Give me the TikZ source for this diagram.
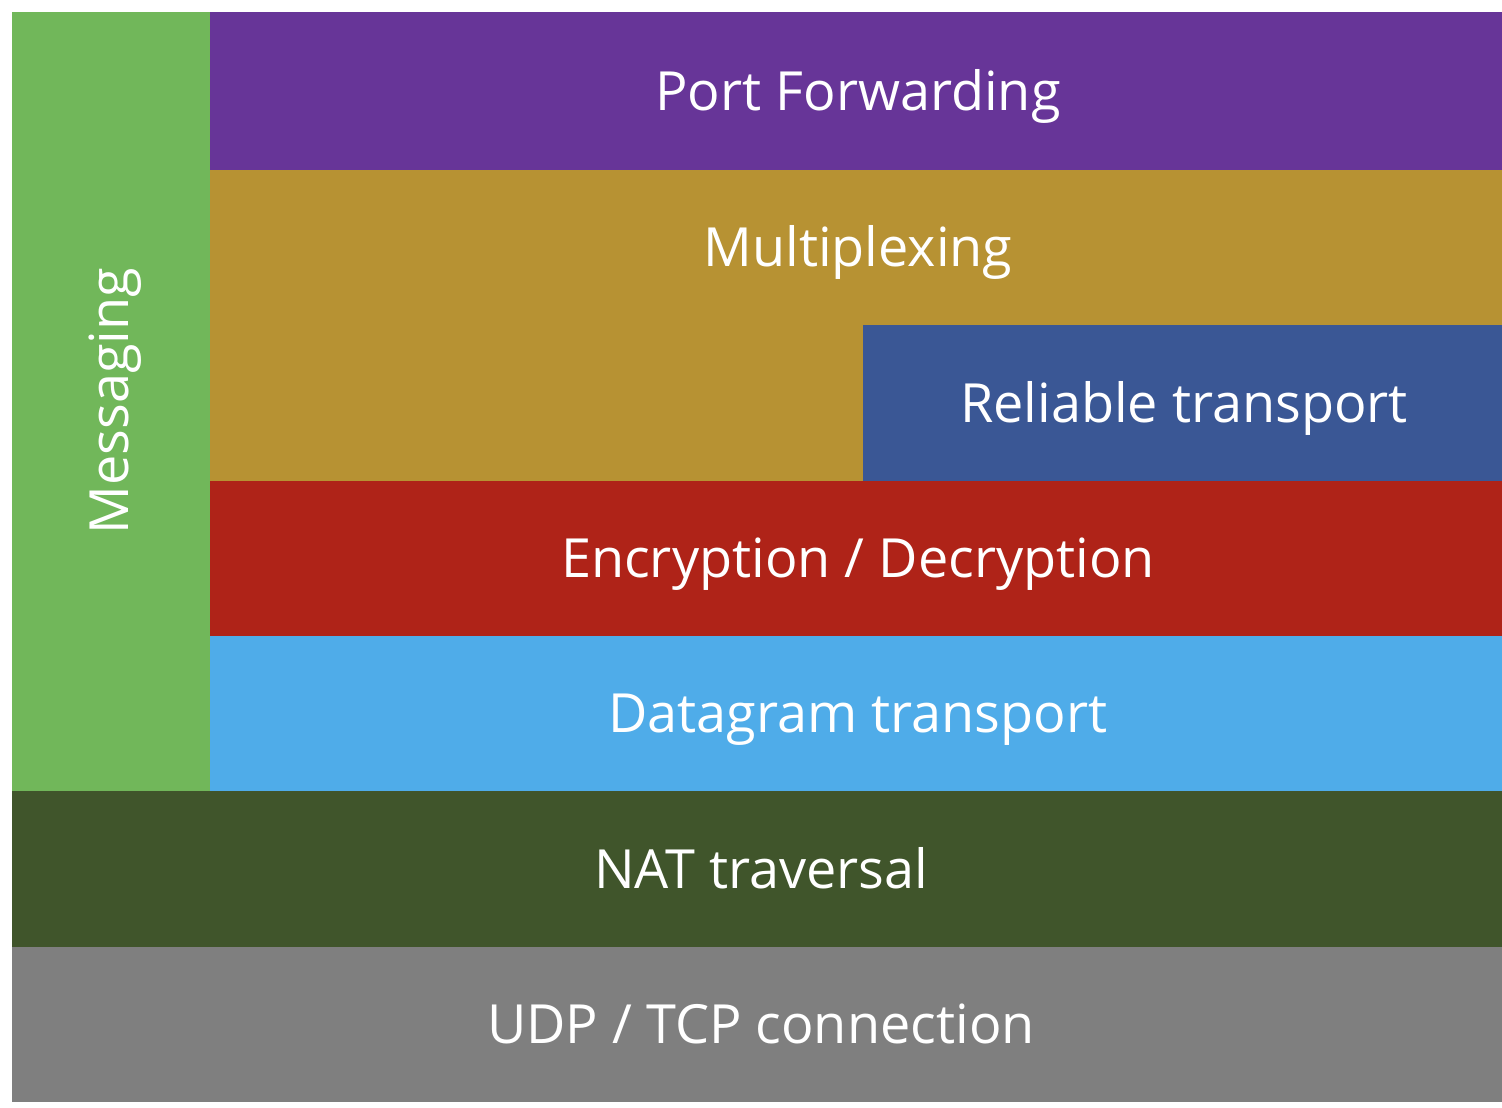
\documentclass[tikz,border=0pt]{standalone}
\usepackage{fontspec}
\setmainfont{Open Sans}
\definecolor{cPurple}{HTML}{673598}
\definecolor{cGold}{HTML}{B79233}
\definecolor{cBlue}{HTML}{3A5795}
\definecolor{cRed}{HTML}{AF2318}
\definecolor{cLight}{HTML}{4FACE9}
\definecolor{cGreen}{HTML}{71B75A}
\definecolor{cDark}{HTML}{40552B}
\definecolor{cGray}{HTML}{7F7F7F}
\tikzset{
  lbl/.style={text=white, font=\fontsize{54}{60}\selectfont, inner sep=0pt, text height=38.6pt, text depth=0pt, anchor=center},
}
\begin{document}
\begin{tikzpicture}[x=1pt,y=-1pt]
\useasboundingbox (0,0) rectangle (1502,1108);
\fill[white] (0,0) rectangle (1502,1108);
\fill[cGreen] (12,12) rectangle (210,791);
\fill[cPurple] (210,12) rectangle (1502,170);
\fill[cGold] (210,170) -- (1502,170) -- (1502,325) -- (863,325) -- (863,481) -- (210,481) -- cycle;
\fill[cBlue] (863,325) rectangle (1502,481);
\fill[cRed] (210,481) rectangle (1502,636);
\fill[cLight] (210,636) rectangle (1502,791);
\fill[cDark] (12,791) rectangle (1502,947);
\fill[cGray] (12,947) rectangle (1502,1102);
\node[lbl] (port) at (858,91) {Port Forwarding};
\node[lbl] (mux) at (858,247.5) {Multiplexing};
\node[lbl] (rel) at (1184,403) {Reliable transport};
\node[lbl] (enc) at (858,558.5) {Encryption / Decryption};
\node[lbl] (dgram) at (858,713.5) {Datagram transport};
\node[lbl] (nat) at (761,869) {NAT traversal};
\node[lbl] (udp) at (761,1024.5) {UDP / TCP connection};
\node[lbl, rotate=90] (msg) at (109,401) {Messaging};
\end{tikzpicture}
\end{document}
